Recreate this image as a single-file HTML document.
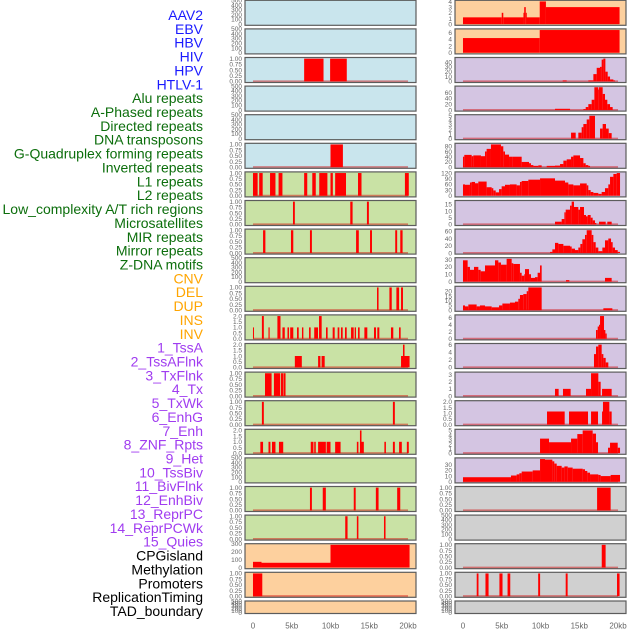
<!DOCTYPE html>
<html><head><meta charset="utf-8"><style>
html,body{margin:0;padding:0;background:#fff;}
svg{display:block;}
text{font-family:"Liberation Sans",sans-serif;}
</style></head><body>
<svg id="chart" width="630" height="630" viewBox="0 0 630 630" xmlns="http://www.w3.org/2000/svg">
<g id="labels"></g>
<g id="panels"></g>
<g id="xaxes"></g>
</svg>
<script>
// ---------- labels ----------
const labelNames = ["AAV2","EBV","HBV","HIV","HPV","HTLV-1","Alu repeats","A-Phased repeats","Directed repeats","DNA transposons","G-Quadruplex forming repeats","Inverted repeats","L1 repeats","L2 repeats","Low_complexity A/T rich regions","Microsatellites","MIR repeats","Mirror repeats","Z-DNA motifs","CNV","DEL","DUP","INS","INV","1_TssA","2_TssAFlnk","3_TxFlnk","4_Tx","5_TxWk","6_EnhG","7_Enh","8_ZNF_Rpts","9_Het","10_TssBiv","11_BivFlnk","12_EnhBiv","13_ReprPC","14_ReprPCWk","15_Quies","CPGisland","Methylation","Promoters","ReplicationTiming","TAD_boundary"];
const labelGroups = [0,0,0,0,0,0,1,1,1,1,1,1,1,1,1,1,1,1,1,2,2,2,2,2,3,3,3,3,3,3,3,3,3,3,3,3,3,3,3,4,4,4,4,4];
const groupColors = ["#1a1aff","#0c6e0c","#ffa500","#a03cf0","#000000"];

// ---------- chart data (kb / counts) ----------
const xTickValues = [0,5,10,15,20];
const xTickLabels = ["0","5kb","10kb","15kb","20kb"];
const ticksEmpty = [0,100,200,300,400,500];
const ticksUnit = [0,0.25,0.5,0.75,1];
const ticksTwo = [0,0.5,1,1.5,2];

// left column segments [start, end, value]
const leftHIV = [[6.6,9.1,1],[9.95,12.1,1]];
const leftGQuad = [[10.0,11.6,1]];
const leftRow6 = [[0,0.6,1],[0.8,1.25,1],[2.2,2.9,1],[3.3,3.8,1],[6.6,7.0,1],[7.65,8.1,1],[8.55,9.6,1],[10.0,10.3,1],[10.6,12.0,1],[13.55,14.0,1],[19.6,20.1,1]];
const leftRow7 = [[5.16,5.4,1],[12.55,12.85,1],[14.7,14.95,1]];
const leftRow8 = [[1.3,1.6,1],[4.9,5.2,1],[7.35,7.6,1],[13.3,13.65,1],[15.1,15.35,1],[18.35,18.6,1],[19.0,19.3,1]];
const leftRow10 = [[16.0,16.2,1],[17.6,17.9,1],[18.5,18.85,1],[19.1,19.35,1]];
const leftRow11 = [[0,0.1,1],[1.15,1.4,2],[2.0,2.15,1],[3.15,3.55,2],[3.8,4.1,1],[4.45,4.65,1],[4.8,5.2,1],[5.68,5.9,1],[6.32,6.5,1],[7.23,7.44,1],[7.9,8.39,1],[8.52,8.86,2],[9.42,9.63,1],[10.28,10.54,1],[10.92,11.14,1],[11.35,11.57,1],[11.87,12.09,1],[12.65,12.99,1],[13.12,13.29,1],[13.55,13.76,1],[14.37,14.75,1],[15.61,15.87,1],[16.04,16.3,1],[17.8,18.1,1],[18.84,19.05,1]];
const leftRow12 = [[5.4,6.3,1],[8.4,8.7,1],[8.85,9.25,1],[19.1,20.2,1],[19.35,19.55,2]];
const leftRow13 = [[1.55,2.4,1],[2.7,3.5,1],[3.6,3.9,1],[3.95,4.2,1]];
const leftRow14 = [[1.15,1.4,1],[18.05,18.3,1]];
const leftRow15 = [[0.95,1.3,1],[2.0,2.25,1],[2.45,2.9,1],[3.35,3.9,1],[7.45,7.8,1],[7.9,8.1,1],[8.4,9.4,1],[9.5,10.0,1],[10.6,11.3,1],[13.4,13.6,1],[13.8,14.0,2],[14.0,14.3,1],[16.95,17.15,1],[18.05,18.3,1],[18.85,19.2,1],[19.85,20.1,1]];
const leftRow17 = [[7.35,7.6,1],[9.0,9.4,1],[13.0,13.25,1],[15.85,16.2,1],[18.6,19.0,1]];
const leftRow18 = [[11.9,12.2,1],[13.4,13.6,1],[16.9,17.1,1]];
const leftCpgEdges = [0,1.1,10,20.2];
const leftCpgValues = [72,60,285];
const leftPromoters = [[0,1.2,1]];

// right column histograms: bin edges (kb) + values
const rAAV2Edges = [0,5.0,5.2,7.8,7.9,8.1,8.2,9.9,10.7,20.2];
const rAAV2Values = [1.2,2,1.2,2,3,2,1.2,4,3];
const rHBVEdges = [0,9.9,20.2];
const rHBVValues = [4.4,6.8];
const r2Edges = [12.86,13.38,16.17,16.82,17.25,17.68,17.89,18.11,18.37,18.67,18.97,19.4,19.61];
const r2Values = [2,0,2,15,28,30,45,47,20,10,4,2];
const r3Edges = [11.87,13.81,15.53,15.83,16.17,16.6,16.95,17.46,17.55,18.02,18.32,18.62,18.97,19.31];
const r3Values = [4,0,3,10,20,35,78,70,78,55,35,20,10];
const r4Edges = [13.94,14.54,14.88,15.31,15.53,15.96,16.3,17.03,17.68,18.02,18.45,18.8,19.18];
const r4Values = [1.3,0,1.3,2.5,3.2,4.2,5,0,2.2,3.2,2.2,1.2];
const r5Edges = [0,0.17,1.12,1.33,2.32,2.84,3.05,3.61,4.9,5.2,5.42,5.94,6.37,7.57,8.52,8.77,9.08,9.72,10.15,10.8,11.87,12.52,12.95,13.38,13.94,14.24,15.1,15.53,15.83,16.17,16.39];
const r5Values = [40,47,42,45,42,60,70,87,80,60,48,40,40,20,15,8,5,7,0,5,6,12,25,30,40,45,35,15,8,5];
const r6Edges = [0,0.26,0.9,1.12,1.55,1.98,3.05,3.7,3.91,4.22,4.65,4.99,5.42,6.06,6.92,7.35,7.57,8.43,9.94,11.87,13.16,13.59,14.24,15.1,15.96,16.17,16.47,16.82,17.46,17.89,18.32,18.75,18.97,19.4,19.83,20.26];
const r6Values = [60,58,70,73,66,75,45,40,28,18,35,50,58,60,55,73,78,85,92,80,70,60,55,65,55,30,20,15,10,20,40,60,100,115,120];
const r7Edges = [11.87,12.73,13.08,13.25,13.81,14.02,14.32,14.88,15.1,15.61,15.87,16.09,16.47,16.73,17.03,17.2,17.55,18.41,18.62,19.18];
const r7Values = [2,4,9,11,14,17,13,11,13,7,6,7,5,3,1,0,2,0,2];
const r8Edges = [11.23,11.53,11.87,12.3,12.95,13.81,14.02,14.45,14.88,15.14,15.4,15.74,15.96,16.6,16.82,17.12,17.46,17.98,18.32,18.75,19.1,19.31,19.61,19.96,20.26];
const r8Values = [3,10,28,25,20,18,12,8,15,25,38,50,63,50,30,15,5,15,35,40,30,15,8,3];
const r9Edges = [0,0.6,0.9,1.42,1.98,2.28,2.84,4.13,4.56,4.9,5.63,6.28,6.49,7.35,7.57,7.91,8.0,8.52,8.77,9.29,9.63,9.94,10.15,13.29,13.72,18.32,19.18];
const r9Values = [29,20,16,20,16,14,22,29,26,23,31,25,24,12,8,10,17,10,5,6,12,22,0,2,0,5];
const r10Edges = [0,0.26,0.69,1.76,2.19,2.84,3.7,4.65,5.08,6.06,6.71,7.14,7.35,7.78,8.22,8.43,10.15,18.11,19.27];
const r10Values = [5,4,6,4,5,4,3,5,7,8,9,12,16,17,20,24,0,2];
const r11Edges = [17.16,17.38,17.55,17.68,18.19,18.37,18.54];
const r11Values = [2.5,3.5,4,6.5,2.5,1.5];
const r12Edges = [16.9,17.16,17.46,17.89,18.11,18.41,18.75];
const r12Values = [3.5,5.5,6,3.5,2.5,1.3];
const r13Segs = [[11.87,12.34,1],[12.9,13.89,1],[15.87,16.52,1],[16.52,17.46,3.2],[17.46,17.76,2],[17.94,19.18,1]];
const r14Segs = [[10.84,13.12,1.15],[13.68,16.13,1.15],[16.52,17.42,1.15],[17.94,18.06,1.15],[18.06,18.88,2],[18.88,19.18,1.15]];
const r15Edges = [9.94,11.1,13.94,14.75,15.44,16.73,17.16,17.42,18.71,18.97,19.96,20.26];
const r15Values = [3.2,2.4,3.2,4.2,5,4.3,2.4,0,1.2,2.3,1.2];
const r16Edges = [0,6.19,6.92,7.27,7.57,8.99,9.94,10.58,11.53,11.78,12.09,12.73,13.08,13.51,14.15,15.44,15.74,16.04,16.39,17.46,17.76,19.05,20.26];
const r16Values = [8,11,13,15,18,20,40,39,36,32,28,25,27,25,23,22,19,16,13,12,10,12];
const r17Segs = [[17.3,19.05,1]];
const r19Segs = [[17.9,18.4,1]];
const r20Segs = [[1.77,2.0,1],[2.9,3.3,1],[4.7,5.1,1],[5.75,6.1,1],[9.7,9.95,1],[13.25,13.5,1],[19.87,20.2,1]];

function hist(edges, values){ const s=[]; for(let i=0;i<values.length;i++){ if(values[i]>0) s.push([edges[i],edges[i+1],values[i]]); } return s; }

const BLUE="#c9e5ed", GREEN="#c9e2a5", ORANGE="#fdd09e", LAV="#d4c5e2", GREY="#d0d0d0";
function E(){ return {ymax:476,ticks:ticksEmpty,dec:0,segs:[],base:false}; }
function U(segs){ return {ymax:1,ticks:ticksUnit,dec:2,segs:segs,base:true}; }
function T(segs){ return {ymax:2,ticks:ticksTwo,dec:1,segs:segs,base:true}; }
function H(segs,ymax,ticks,dec,base){ return {ymax:ymax,ticks:ticks,dec:dec,segs:segs,base:base}; }

const leftPanels = [E(),E(),U(leftHIV),E(),E(),U(leftGQuad),U(leftRow6),U(leftRow7),U(leftRow8),E(),U(leftRow10),T(leftRow11),T(leftRow12),U(leftRow13),U(leftRow14),T(leftRow15),E(),U(leftRow17),U(leftRow18),
  H(hist(leftCpgEdges,leftCpgValues),285,[0,100,200,300],0,false),U(leftPromoters),E()];
const leftBg = i => i<6?BLUE:(i<19?GREEN:ORANGE);
const rightPanels = [
  H(hist(rAAV2Edges,rAAV2Values),4,[0,1,2,3,4],0,false),
  H(hist(rHBVEdges,rHBVValues),6.8,[0,2,4,6],0,false),
  H(hist(r2Edges,r2Values),47,[0,10,20,30,40],0,true),
  H(hist(r3Edges,r3Values),78,[0,20,40,60],0,true),
  H(hist(r4Edges,r4Values),5,[0,1,2,3,4,5],0,true),
  H(hist(r5Edges,r5Values),87,[0,20,40,60,80],0,true),
  H(hist(r6Edges,r6Values),120,[0,30,60,90,120],0,false),
  H(hist(r7Edges,r7Values),17,[0,5,10,15],0,true),
  H(hist(r8Edges,r8Values),63,[0,20,40,60],0,true),
  H(hist(r9Edges,r9Values),31,[0,10,20,30],0,true),
  H(hist(r10Edges,r10Values),24,[0,5,10,15,20],0,true),
  H(hist(r11Edges,r11Values),6.5,[0,2,4,6],0,true),
  H(hist(r12Edges,r12Values),6,[0,2,4,6],0,true),
  H(r13Segs,3.2,[0,1,2,3],0,true),
  H(r14Segs,2,ticksTwo,1,true),
  H(hist(r15Edges,r15Values),5,[0,1,2,3,4,5],0,true),
  H(hist(r16Edges,r16Values),40,[0,10,20,30],0,true),
  U(r17Segs),E(),U(r19Segs),U(r20Segs),E()];
const rightBg = i => i<2?ORANGE:(i<17?LAV:GREY);

const NS="http://www.w3.org/2000/svg";
function mk(tag, parent, attrs){ const el=document.createElementNS(NS,tag); for(const k in attrs) el.setAttribute(k,attrs[k]); parent.appendChild(el); return el; }

const labelsG=document.getElementById('labels');
labelNames.forEach((n,i)=>{
  const t=mk('text',labelsG,{x:203,y:15+i*13.86+5,'text-anchor':'end','font-size':'14',fill:groupColors[labelGroups[i]]});
  t.textContent=n;
  
  
});

const panelsG=document.getElementById('panels');
const cols=[{x0:245,x1:416,panels:leftPanels,bg:leftBg,name:'left'},{x0:455,x1:626,panels:rightPanels,bg:rightBg,name:'right'}];
const XMIN=-1.03, XMAX=21.03;
function rowTop(r){ return r===21?601:r*28.6+0.3; }
function rowH(r){ return r===21?12.5:25; }

cols.forEach(c=>{
  const xs = kb => c.x0 + (kb-XMIN)/(XMAX-XMIN)*(c.x1-c.x0);
  c.panels.forEach((p,r)=>{
    const top=rowTop(r), h=rowH(r);
    const lo=-0.05*p.ymax, hi=1.05*p.ymax;
    const ys = v => top + h - (v-lo)/(hi-lo)*h;
    const g=mk('g',panelsG,{});
    
    
    const bg=mk('rect',g,{x:c.x0,y:top,width:c.x1-c.x0,height:h,fill:c.bg(r)});
    
    
    if(p.base){
      const bl=mk('line',g,{x1:xs(0),x2:xs(20),y1:ys(0),y2:ys(0),stroke:'rgba(210,0,0,0.45)','stroke-width':2});
      
      
    }
    p.segs.forEach(s=>{
      const y0=ys(0), y1=Math.max(ys(s[2]),top);
      const b=mk('rect',g,{x:xs(s[0]),y:y1,width:Math.max(xs(s[1])-xs(s[0]),1),height:Math.min(y0,top+h)-y1,fill:'#ff0000'});
      
      
    });
    const br=mk('rect',g,{x:c.x0,y:top,width:c.x1-c.x0,height:h,fill:'none',stroke:'#5c5c5c','stroke-width':1.2});
    
    
    p.ticks.forEach(tv=>{
      if(tv>hi*1.01) return;
      const t=mk('text',g,{x:c.x0-3,y:ys(tv)+2.3,'text-anchor':'end','font-size':'6.5',fill:'#666'});
      t.textContent=p.dec?tv.toFixed(p.dec):String(tv);
      
      
    });
  });
  const xg=document.getElementById('xaxes');
  xTickValues.forEach((v,i)=>{
    const t=mk('text',xg,{x:xs(v),y:628.5,'text-anchor':'middle','font-size':'8',fill:'#666'});
    t.textContent=xTickLabels[i];
    
    
  });
});
</script>
</body></html>
